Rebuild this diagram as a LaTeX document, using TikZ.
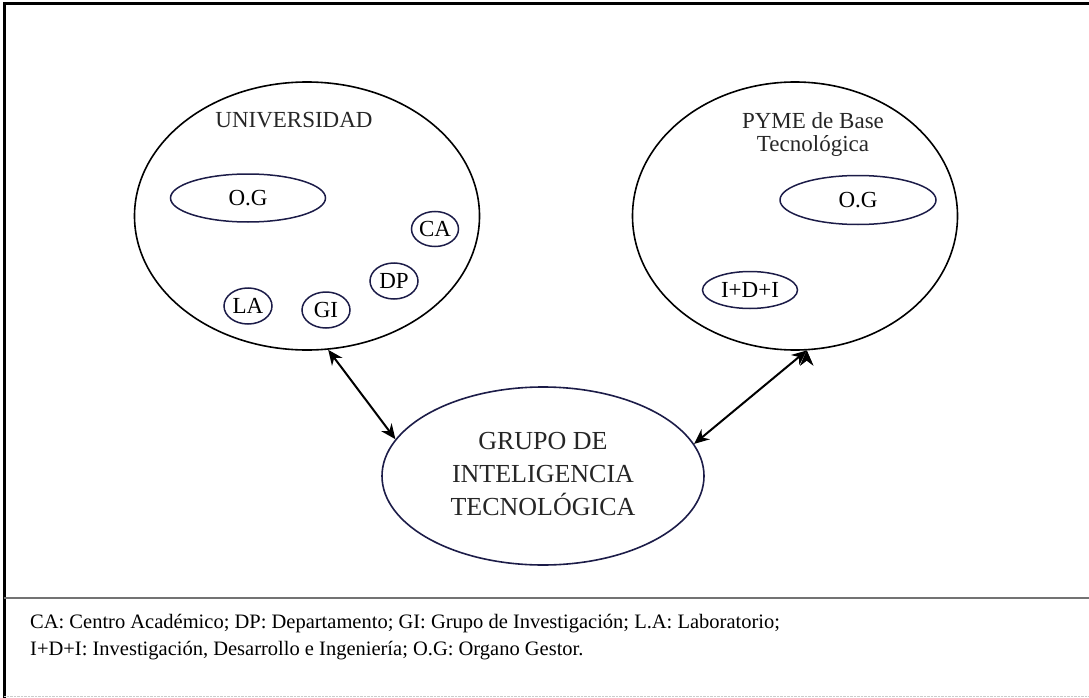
\documentclass[tikz,border=0pt]{standalone}
\usepackage{fontspec}
\setmainfont{Liberation Serif}
\usepackage{xcolor}
\usetikzlibrary{shapes.geometric, arrows.meta, positioning}
\definecolor{ovalline}{RGB}{28,28,72}

\begin{document}
\begin{tikzpicture}[x=1pt,y=-1pt,inner sep=0pt]
    \tikzstyle{big}=[shape=ellipse,draw,line width=1.6pt]
    \tikzstyle{small}=[shape=ellipse,draw=ovalline,line width=1.5pt,font=\fontsize{23}{23}\selectfont]
    \tikzstyle{title}=[align=center,text=black!85,font=\fontsize{23}{23}\selectfont]

    \useasboundingbox (0,0) rectangle (1089,698);

    % frame and separator
    \draw[line width=3pt] (4,698) -- (4,4) -- (1089,4);
    \draw[line width=2.4pt, black!55] (4,598) -- (1089,598);
    \draw[black!20, densely dotted] (4,696.5) -- (1089,696.5);

    % universidad
    \node[big, minimum width=345, minimum height=268] (U0) at (307,216) {};
    \node[title, anchor=base] (U1) at (294,128) {UNIVERSIDAD};
    \node[small, minimum width=155, minimum height=48] (U2) at (248,198) {O.G};
    \node[small, minimum width=47, minimum height=35] (U3) at (435,229) {CA};
    \node[small, minimum width=48, minimum height=36] (U4) at (394,281) {DP};
    \node[small, minimum width=48, minimum height=36] (U5) at (326,310) {GI};
    \node[small, minimum width=48, minimum height=36] (U6) at (248,306) {LA};

    % pyme
    \node[big, minimum width=325, minimum height=268] (P0) at (795,216) {};
    \node[title, anchor=base] (P1) at (813,151) {PYME de Base\\Tecnológica};
    \node[small, minimum width=156, minimum height=49] (P2) at (858,200) {O.G};
    \node[small, minimum width=95, minimum height=37] (P3) at (750,290) {I+D+I};

    % grupo
    \node[big, draw=ovalline, minimum width=322, minimum height=178] (G0) at (543,476) {};
    \node[align=center, text=black!85, font=\fontsize{26}{33}\selectfont] (G1) at (543,474)
        {GRUPO DE\\INTELIGENCIA\\TECNOLÓGICA};

    \path[{Stealth[length=15pt,width=13pt]}-{Stealth[length=15pt,width=13pt]}, draw, line width=2pt]
    (U0.-81) edge (G0.166)
    (P0.-85) edge (G0.12)
    ;

    % legend
    \node[anchor=base west, align=left, font=\fontsize{20.5}{27}\selectfont] (L0) at (30,655)
        {CA: Centro Académico; DP: Departamento; GI: Grupo de Investigación; L.A: Laboratorio;\\
         I+D+I: Investigación, Desarrollo e Ingeniería; O.G: Organo Gestor.};
\end{tikzpicture}
\end{document}
